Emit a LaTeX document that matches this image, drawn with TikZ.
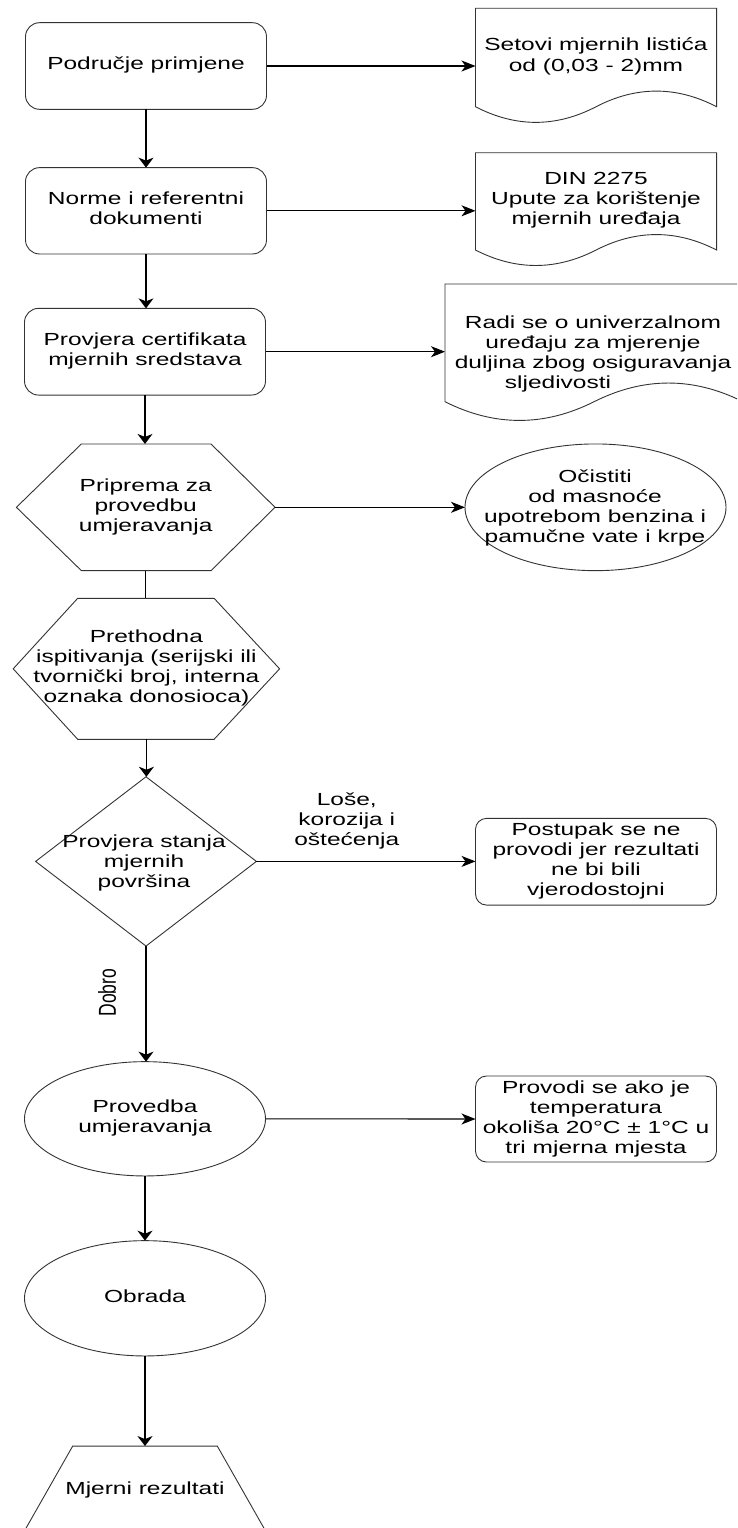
\documentclass[tikz,border=0pt]{standalone}
\usepackage{fontspec}
\setmainfont{Liberation Sans}
\usepackage{graphicx}
\usetikzlibrary{arrows.meta,shapes.geometric,calc}
\newcommand\tx[1]{\scalebox{1.4}[1]{\begin{tabular}{@{}c@{}}#1\end{tabular}}}
% #1 left, #2 top, #3 width, #4 height
\newcommand\docshape[4]{%
  \draw[shp] (#1,#2) -- ({#1+#3},#2) -- ({#1+#3},{#2+0.85*#4})
    .. controls ({#1+5*#3/6},{#2+0.67*#4}) and ({#1+2*#3/3},{#2+0.67*#4}) .. ({#1+#3/2},{#2+0.85*#4})
    .. controls ({#1+#3/3},{#2+1.03*#4}) and ({#1+#3/6},{#2+1.03*#4}) .. (#1,{#2+0.85*#4}) -- cycle;}
\begin{document}
\begin{tikzpicture}[x=1pt,y=-1pt,
  font=\fontsize{17.5}{20}\selectfont,
  shp/.style={draw=black!80, line width=0.9pt},
  ghost/.style={inner sep=0pt, outer sep=0pt},
  rbox/.style={shp, rounded corners=14pt, minimum width=241pt, minimum height=86.6pt, inner sep=0pt, outer sep=0pt},
  sbox/.style={shp, rounded corners=11pt, minimum width=241pt, minimum height=86.6pt, inner sep=0pt, outer sep=0pt},
  ell/.style={shp, ellipse, inner sep=0pt, outer sep=0pt},
  con/.style={line width=1.1pt, black},
  ha/.style={con, -{Stealth[length=14pt,width=11pt,inset=4pt]}},
  va/.style={con, -{Stealth[length=10pt,width=15pt,inset=3pt]}}]
\useasboundingbox (0,0) rectangle (737,1528);
\fill[white] (0,0) rectangle (737,1528);
\clip (0,0) rectangle (737,1528);

% left column
\node[rbox] (b1) at (146,66) {\tx{Područje primjene}};
\node[rbox, minimum height=86.3pt] (b2) at (146,210.8) {\tx{Norme i referentni\\dokumenti}};
\node[rbox, minimum height=86.7pt] (b3) at (145,351.7) {\tx{Provjera certifikata\\mjernih sredstava}};

\node[ghost, minimum width=258.6pt, minimum height=126.7pt] (h1) at (145.7,507.3) {\tx{Priprema za\\provedbu\\umjeravanja}};
\draw[shp] (h1.west) -- ([xshift=65pt]h1.north west) -- ([xshift=-64pt]h1.north east) -- (h1.east)
  -- ([xshift=-64pt]h1.south east) -- ([xshift=65pt]h1.south west) -- cycle;

\node[ghost, minimum width=266.4pt, minimum height=141pt] (h2) at (146.4,668.8) {\tx{Prethodna\\ispitivanja (serijski ili\\tvornički broj, interna\\oznaka donosioca)}};
\draw[shp] (h2.west) -- ([xshift=64.5pt]h2.north west) -- ([xshift=-65.5pt]h2.north east) -- (h2.east)
  -- ([xshift=-65.5pt]h2.south east) -- ([xshift=64.5pt]h2.south west) -- cycle;

\node[ghost, minimum width=220.8pt, minimum height=169.3pt] (dm) at (146,861.4) {};
\draw[shp] (dm.north) -- (dm.east) -- (dm.south) -- (dm.west) -- cycle;
\node[ghost] (dmt) at (144,863) {\tx{Provjera stanja\\mjernih\\površina}};

\node[ell, minimum width=241pt, minimum height=114.3pt] (e2) at (145,1118.8) {\tx{Provedba\\umjeravanja}};
\node[ell, minimum width=241pt, minimum height=115.3pt] (e3) at (145,1298.3) {\tx{Obrada}};

\node[ghost, minimum width=245pt, minimum height=88.3pt] (tr) at (145,1490.2) {\tx{Mjerni rezultati}};
\draw[shp] (tr.south west) -- ([xshift=50.2pt]tr.north west) -- ([xshift=-50.2pt]tr.north east) -- (tr.south east) -- cycle;

% right column
\docshape{475.5}{8.3}{241.1}{115.8}
\coordinate (d1) at (475.5,66);
\node[ghost] (d1t) at (596,57) {\tx{Setovi mjernih listića\\od (0,03 - 2)mm}};

\docshape{475.5}{152.7}{241.1}{114.5}
\coordinate (d2) at (475.5,210.8);
\node[ghost] (d2t) at (596,200) {\tx{DIN 2275\\Upute za korištenje\\mjernih uređaja}};

\docshape{445}{284}{298}{138.5}
\coordinate (d3) at (445,351.7);
\node[ghost] (d3t) at (593,354) {\tx{Radi se o univerzalnom\\uređaju za mjerenje\\duljina zbog osiguravanja\\sljedivosti\hspace*{50pt}}};

\node[ell, minimum width=261pt, minimum height=126.7pt] (e1) at (595.5,507.3) {};
\node[ghost] (e1t) at (595,508.3) {\tx{Očistiti\\od masnoće\\upotrebom benzina i\\pamučne vate i krpe}};

\node[sbox, minimum height=86.7pt] (p1) at (596,861.7) {\tx{Postupak se ne\\provodi jer rezultati\\ne bi bili\\vjerodostojni}};
\node[sbox, minimum height=86pt] (pr) at (596,1119) {\tx{Provodi se ako je\\temperatura\\okoliša 20°C ± 1°C u\\tri mjerna mjesta}};

% connectors
\draw[ha] (b1.east) -- (d1);
\draw[ha] (b2.east) -- (d2);
\draw[ha] (b3.east) -- (d3);
\draw[ha] (h1.east) -- (e1.west);
\draw[ha] (dm.east) -- (dm.east -| p1.west);
\draw[ha] (e2.east) -- (pr.west);

\draw[va] (b1.south) -- (b2.north);
\draw[va] (b2.south) -- (b3.north -| b2.south);
\draw[va] (b3.south) -- (h1.north -| b3.south);
\draw[con] (h1.south) -- (h2.north -| h1.south);
\draw[va] (h2.south) -- (dm.north -| h2.south);
\draw[va] (dm.south) -- (e2.north -| dm.south);
\draw[va] (e2.south) -- (e3.north);
\draw[va] (e3.south) -- (tr.north);

% labels
\node[ghost] (lose) at (346.8,821.7) {\tx{Loše,\\korozija i\\oštećenja}};
\node[ghost] (dobro) at (107,992.7) {\rotatebox{90}{\scalebox{1}[1.4]{Dobro}}};
\end{tikzpicture}
\end{document}
